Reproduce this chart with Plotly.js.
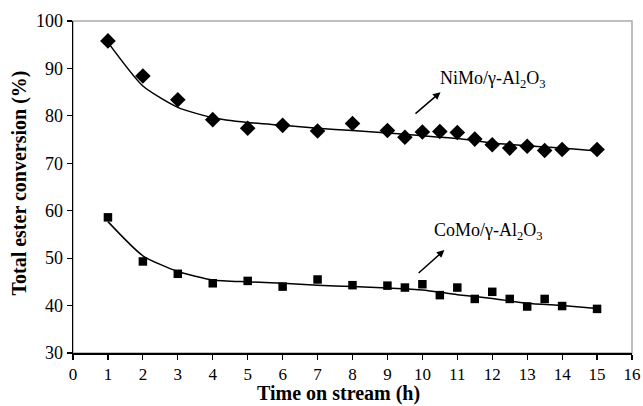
<!DOCTYPE html>
<html>
<head>
<meta charset="utf-8">
<script src="https://cdn.plot.ly/plotly-3.0.1.min.js"></script>
<style>html,body{margin:0;padding:0;background:#fff;}#chart{width:643px;height:406px;}</style>
</head>
<body>
<div id="chart"></div>
<script>
// Measured data
var nimoX = [1, 2, 3, 4, 5, 6, 7, 8, 9, 9.5, 10, 10.5, 11, 11.5, 12, 12.5, 13, 13.5, 14, 15];
var nimoY = [95.8, 88.4, 83.4, 79.2, 77.4, 78.0, 76.8, 78.4, 76.9, 75.5, 76.6, 76.7, 76.5, 75.1, 73.9, 73.2, 73.6, 72.7, 72.9, 72.9];
var comoX = [1, 2, 3, 4, 5, 6, 7, 8, 9, 9.5, 10, 10.5, 11, 11.5, 12, 12.5, 13, 13.5, 14, 15];
var comoY = [58.6, 49.3, 46.7, 44.7, 45.2, 44.0, 45.5, 44.3, 44.2, 43.8, 44.5, 42.2, 43.8, 41.4, 42.9, 41.4, 39.8, 41.4, 39.9, 39.3];
// Trend lines
var fitX = [1, 2, 3, 4, 5, 6, 7, 8, 9, 10, 11, 12, 13, 14, 15];
var nimoFit = [95.5, 86.3, 81.8, 79.6, 78.6, 78.0, 77.4, 76.9, 76.4, 75.8, 75.2, 74.3, 73.7, 73.2, 72.6];
var comoFit = [57.7, 50.5, 47.2, 45.4, 45.0, 44.7, 44.3, 44.0, 43.7, 43.3, 42.3, 41.5, 40.5, 40.0, 39.4];
var xTicks = [0,1,2,3,4,5,6,7,8,9,10,11,12,13,14,15,16];
var yTicks = [30,40,50,60,70,80,90,100];
var xTitle = "Time on stream (h)";
var yTitle = "Total ester conversion (%)";
var nimoLabel = "NiMo/γ-Al<sub>2</sub>O<sub>3</sub>";
var comoLabel = "CoMo/γ-Al<sub>2</sub>O<sub>3</sub>";

var serif = "Liberation Serif, Times New Roman, serif";
var traces = [
  {x: fitX, y: nimoFit, mode: 'lines', line: {color: '#000', width: 1.5, shape: 'spline', smoothing: 0.6}, hoverinfo: 'skip'},
  {x: fitX, y: comoFit, mode: 'lines', line: {color: '#000', width: 1.5, shape: 'spline', smoothing: 0.6}, hoverinfo: 'skip'},
  {x: nimoX, y: nimoY, mode: 'markers', marker: {symbol: 'diamond', size: 12, color: '#000'}},
  {x: comoX, y: comoY, mode: 'markers', marker: {symbol: 'square', size: 8.5, color: '#000'}}
];
var layout = {
  width: 643, height: 406,
  margin: {l: 73, r: 11, t: 21, b: 53},
  paper_bgcolor: '#fff', plot_bgcolor: '#fff',
  showlegend: false,
  font: {family: serif, color: '#000', size: 18},
  xaxis: {
    range: [0, 16], tickvals: xTicks, ticktext: xTicks.map(String),
    showgrid: false, zeroline: false, showline: true, linecolor: '#000', linewidth: 1.5,
    ticks: 'outside', ticklen: 5, tickwidth: 1.2, tickcolor: '#000',
    tickfont: {family: serif, size: 17, color: '#000'}
  },
  yaxis: {
    range: [30, 100], tickvals: yTicks, ticktext: yTicks.map(String),
    showgrid: false, zeroline: false, showline: true, linecolor: '#000', linewidth: 1.5,
    ticks: 'outside', ticklen: 5, tickwidth: 1.2, tickcolor: '#000',
    tickfont: {family: serif, size: 18, color: '#000'}
  },
  shapes: [
    {type: 'rect', xref: 'paper', yref: 'paper', x0: 0, x1: 1, y0: 0, y1: 1, line: {color: '#aaa', width: 1.5}, layer: 'below'}
  ],
  annotations: [
    {x: 0.475, y: -0.1596, xref: 'paper', yref: 'paper', xanchor: 'center', yanchor: 'bottom', borderpad: 0, text: '<b>' + xTitle + '</b>', showarrow: false, font: {family: serif, size: 20, color: '#000'}},
    {x: -0.0948, y: 0.5105, xref: 'paper', yref: 'paper', xanchor: 'center', yanchor: 'middle', textangle: -90, text: '<b>' + yTitle + '</b>', showarrow: false, font: {family: serif, size: 20, color: '#000'}},
    {x: 12.02, y: 87.6, xref: 'x', yref: 'y', text: nimoLabel, showarrow: false, font: {family: serif, size: 18, color: '#000'}},
    {x: 11.9, y: 55.6, xref: 'x', yref: 'y', text: comoLabel, showarrow: false, font: {family: serif, size: 18, color: '#000'}},
    {x: 10.52, y: 85.0, ax: 9.76, ay: 80.2, xref: 'x', yref: 'y', axref: 'x', ayref: 'y', text: '', showarrow: true, arrowhead: 2, arrowsize: 1, arrowwidth: 1.5, arrowcolor: '#000'},
    {x: 10.63, y: 51.7, ax: 9.85, ay: 46.6, xref: 'x', yref: 'y', axref: 'x', ayref: 'y', text: '', showarrow: true, arrowhead: 2, arrowsize: 1, arrowwidth: 1.5, arrowcolor: '#000'}
  ]
};
Plotly.newPlot('chart', traces, layout, {displayModeBar: false, staticPlot: true});
</script>
</body>
</html>
